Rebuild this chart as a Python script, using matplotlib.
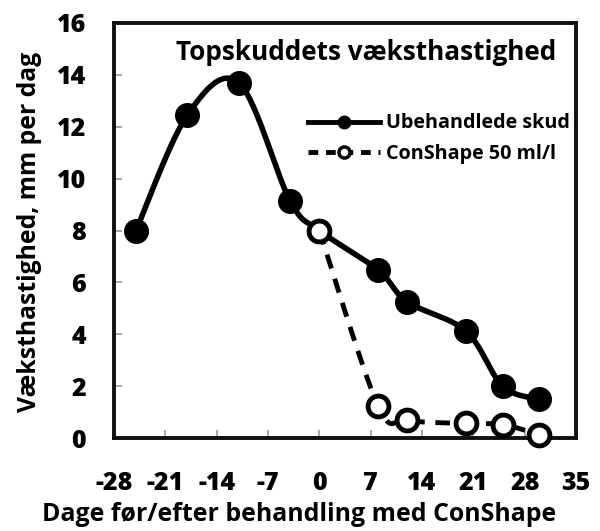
import numpy as np
import matplotlib
matplotlib.use("Agg")
import matplotlib.pyplot as plt
from matplotlib.lines import Line2D
from matplotlib import font_manager as fm

plt.rcParams['font.family'] = ['Open Sans', 'DejaVu Sans']
plt.rcParams['font.weight'] = 'bold'

# Data
untreated_x = [-25, -18, -11, -4, 0, 8, 12, 20, 25, 30]
untreated_y = [8.0, 12.45, 13.7, 9.15, 8.0, 6.48, 5.25, 4.12, 2.0, 1.49]
conshape_x = [0, 8, 12, 20, 25, 30]
conshape_y = [8.0, 1.25, 0.69, 0.56, 0.52, 0.12]
x_ticks = [-28, -21, -14, -7, 0, 7, 14, 21, 28, 35]
y_ticks = [0, 2, 4, 6, 8, 10, 12, 14, 16]
label_untreated = "Ubehandlede skud"
label_conshape = "ConShape 50 ml/l"
title = "Topskuddets væksthastighed"
xlabel = "Dage før/efter behandling med ConShape"
ylabel = "Væksthastighed, mm per dag"

fig = plt.figure(figsize=(6, 5.31), dpi=100)
ax = fig.add_axes([114/600, 1-438/531, 462/600, 415/531])
ax.set_xlim(-28, 35)
ax.set_ylim(0, 16)


def smooth(ax, xs, ys, n=30):
    pts = ax.transData.transform(np.column_stack([xs, ys]))
    P = np.vstack([pts[0], pts, pts[-1]])
    out = []
    for i in range(1, len(P) - 2):
        p0, p1, p2, p3 = P[i-1], P[i], P[i+1], P[i+2]
        c1 = p1 + (p2 - p0) / 6
        c2 = p2 - (p3 - p1) / 6
        t = np.linspace(0, 1, n)[:, None]
        seg = (1-t)**3*p1 + 3*(1-t)**2*t*c1 + 3*(1-t)*t**2*c2 + t**3*p2
        out.append(seg if i == 1 else seg[1:])
    out = np.vstack(out)
    d = ax.transData.inverted().transform(out)
    return d[:, 0], d[:, 1]


sx, sy = smooth(ax, untreated_x, untreated_y)
ax.plot(sx, sy, color='black', lw=4, solid_capstyle='round', zorder=2)
ax.plot(untreated_x, untreated_y, ls='none', marker='o', ms=17,
        mfc='black', mec='black', zorder=3)

cx, cy = smooth(ax, conshape_x, conshape_y)
ax.plot(cx, cy, color='black', lw=3.5, ls=(0, (3, 2.2)), zorder=4)
ax.plot(conshape_x, conshape_y, ls='none', marker='o', ms=15,
        mfc='white', mec='black', mew=3.5, zorder=5, clip_on=False)

ax.tick_params(direction='in', length=6, width=1.2, color='#999999',
               labelcolor='black', pad=20)
ax.tick_params(axis='x', pad=24)
ax.set_xticks(x_ticks)
ax.set_yticks(y_ticks)
ax.set_xticklabels([str(v) for v in x_ticks])
ax.set_yticklabels([str(v) for v in y_ticks])
for s in ax.spines.values():
    s.set_linewidth(2.8)
    s.set_color('#111111')

ax.set_xlabel(xlabel, fontsize=17.9, fontweight='bold', va='center')
ax.set_ylabel(ylabel, fontsize=17.8, fontweight='bold', va='center')
ax.xaxis.set_label_coords(0.40, -0.1855)
ax.yaxis.set_label_coords(-0.182, 0.4976)

ax.text(0.5465, 0.930, title, transform=ax.transAxes, ha='center', va='center',
        fontsize=18.8, fontweight='bold')

handles = [
    Line2D([], [], color='black', lw=3.5, marker='o', ms=9, mfc='black', mec='black'),
    Line2D([], [], color='black', lw=3.5, ls=(0, (2, 1.6)), marker='o', ms=8,
           mfc='white', mec='black', mew=2.5),
]
leg = ax.legend(handles, [label_untreated, label_conshape], loc='upper left',
                bbox_to_anchor=(0.42, 0.782), frameon=False,
                prop={'weight': 'bold', 'size': 14.2}, handlelength=3.65,
                handletextpad=0.3, labelspacing=0.52, borderaxespad=0,
                borderpad=0)

# heavier face for the tick labels (reference digits are very bold)
fig.canvas.draw()
heavy_path = fm.findfont(fm.FontProperties(family='Open Sans', weight=800))
tick_fp = fm.FontProperties(fname=heavy_path, size=18)
for lbl in ax.get_xticklabels() + ax.get_yticklabels():
    lbl.set_fontproperties(tick_fp)
    lbl.set_color('black')

fig.savefig('out.png', dpi=100)
